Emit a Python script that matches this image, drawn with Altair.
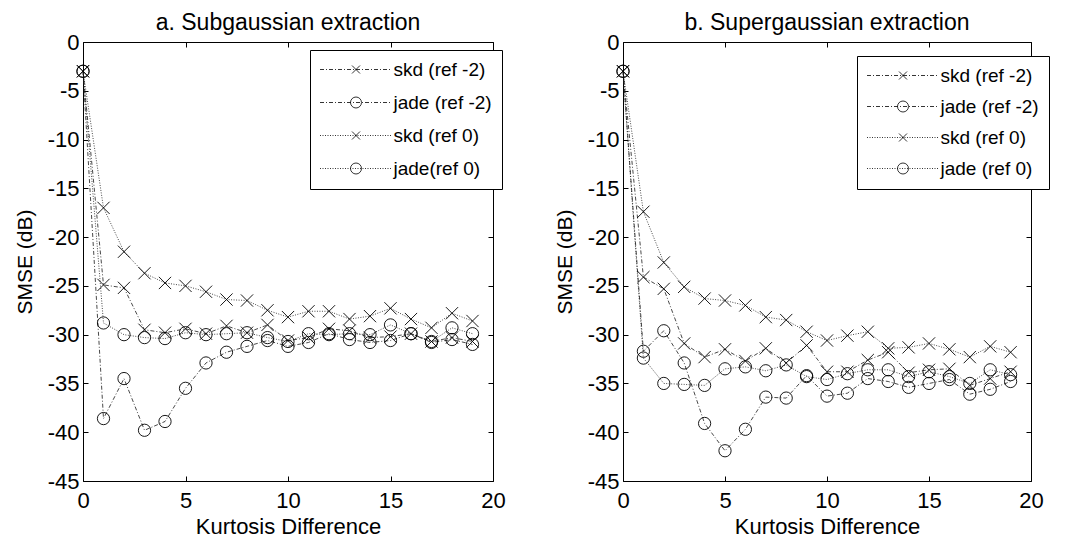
import altair as alt
import pandas as pd

# ---------------- data ----------------
K = list(range(20))

SERIES_A = ["skd (ref -2)", "jade (ref -2)", "skd (ref 0)", "jade(ref 0)"]
SERIES_B = ["skd (ref -2)", "jade (ref -2)", "skd (ref 0)", "jade (ref 0)"]

a_skd_m2 = [-3, -24.9, -25.2, -29.5, -29.8, -29.4, -29.9, -29.1, -29.8, -29.0,
            -30.6, -30.3, -29.4, -29.6, -30.3, -30.2, -29.9, -30.7, -30.3, -30.7]
a_jade_m2 = [-3, -38.6, -34.5, -39.8, -38.9, -35.5, -32.9, -31.8, -31.2, -30.6,
             -31.2, -30.8, -29.9, -30.5, -30.8, -30.6, -29.9, -30.8, -30.5, -31.0]
a_skd_0 = [-3, -17.0, -21.5, -23.7, -24.7, -25.0, -25.6, -26.4, -26.5, -27.5,
           -28.2, -27.6, -27.6, -28.4, -28.1, -27.3, -28.4, -29.3, -27.8, -28.6]
a_jade_0 = [-3, -28.8, -30.0, -30.3, -30.4, -29.8, -30.0, -29.9, -29.8, -30.3,
            -30.7, -29.9, -30.0, -29.9, -30.0, -29.0, -29.9, -30.7, -29.3, -29.9]

b_skd_m2 = [-3, -24.1, -25.3, -30.9, -32.3, -31.5, -32.7, -31.4, -32.9, -31.1,
            -33.8, -33.8, -32.6, -31.8, -33.9, -33.6, -33.5, -35.2, -34.5, -33.8]
b_jade_m2 = [-3, -31.7, -29.6, -32.9, -39.1, -41.9, -39.7, -36.4, -36.5, -34.2,
             -36.3, -36.0, -34.5, -34.8, -35.4, -35.0, -34.6, -36.1, -35.6, -34.8]
b_skd_0 = [-3, -17.4, -22.6, -25.1, -26.3, -26.5, -27.0, -28.2, -28.5, -29.7,
           -30.6, -30.1, -29.7, -31.4, -31.3, -30.9, -31.5, -32.3, -31.2, -31.8]
b_jade_0 = [-3, -32.4, -35.0, -35.1, -35.2, -33.5, -33.3, -33.7, -33.1, -34.3,
            -34.6, -34.0, -33.6, -33.6, -34.3, -33.8, -34.3, -35.0, -33.6, -34.1]

X_TICKS = [0, 5, 10, 15, 20]
Y_TICKS = [-45, -40, -35, -30, -25, -20, -15, -10, -5, 0]


def long_df(series, cols):
    rows = []
    for name, vals in zip(series, cols):
        for k, v in zip(K, vals):
            rows.append({"k": k, "v": v, "series": name})
    return pd.DataFrame(rows)


df_a = long_df(SERIES_A, [a_skd_m2, a_jade_m2, a_skd_0, a_jade_0])
df_b = long_df(SERIES_B, [b_skd_m2, b_jade_m2, b_skd_0, b_jade_0])

# ---------------- styles ----------------
FONT = "Liberation Sans"
DASHDOT = [4, 2, 1, 2]
DOTTED = [1, 1.5]
DASHES = [DASHDOT, DASHDOT, DOTTED, DOTTED]
XPATH = "M-1,-1L1,1M-1,1L1,-1"
MARKERS = [XPATH, "circle", XPATH, "circle"]
H = 439


def dash_path(pattern, x0=-36.0, x1=36.0):
    segs = []
    x = x0
    i = 0
    while x < x1:
        on = pattern[i % len(pattern)]
        off = pattern[(i + 1) % len(pattern)]
        end = min(x + on, x1)
        segs.append(f"M{x:.2f},0L{end:.2f},0")
        x = end + off
        i += 2
    return "".join(segs)


X_MARK = "M-4,-4L4,4M-4,4L4,-4"
O_MARK = "M5.5,0A5.5,5.5,0,1,1,-5.5,0A5.5,5.5,0,1,1,5.5,0Z"
LEGEND_PATHS = [
    dash_path(DASHDOT) + X_MARK,
    dash_path(DASHDOT) + O_MARK,
    dash_path(DOTTED) + X_MARK,
    dash_path(DOTTED) + O_MARK,
]


def panel(df, series, title, width, legend_x, legend_y, row_pad):
    x_enc = alt.X(
        "k:Q",
        scale=alt.Scale(domain=[0, 20], nice=False, zero=False),
        axis=alt.Axis(
            values=X_TICKS, title="Kurtosis Difference", grid=True,
            gridDash=[5, H - 10, 5, 10], gridColor="black", gridOpacity=1,
            gridWidth=1, ticks=False, domain=False, labelFlush=False,
            labelOverlap=False, labelExpr="'' + datum.value",
            labelFontSize=22, labelPadding=9, labelFont=FONT, labelColor="black",
            titleFontSize=22, titleFont=FONT, titleFontWeight="normal",
            titleColor="black", titlePadding=5,
        ),
    )
    y_enc = alt.Y(
        "v:Q",
        scale=alt.Scale(domain=[-45, 0], nice=False, zero=False),
        axis=alt.Axis(
            values=Y_TICKS, title="SMSE (dB)", grid=True,
            gridDash=[5, width - 10, 5, 10], gridColor="black", gridOpacity=1,
            gridWidth=1, ticks=False, domain=False, labelFlush=False,
            labelOverlap=False, labelExpr="'' + datum.value",
            labelFontSize=22, labelPadding=4, labelFont=FONT, labelColor="black",
            titleFontSize=21, titleFont=FONT, titleFontWeight="normal",
            titleColor="black", titlePadding=12,
        ),
    )
    base = alt.Chart(df)
    lines = base.mark_line(color="#1a1a1a", strokeWidth=0.8).encode(
        x=x_enc, y=y_enc,
        strokeDash=alt.StrokeDash("series:N",
                                  scale=alt.Scale(domain=series, range=DASHES),
                                  legend=None),
    )
    pts = base.mark_point(filled=False, color="black", size=150,
                          strokeWidth=0.9, opacity=1).encode(
        x=x_enc, y=y_enc,
        shape=alt.Shape("series:N",
                        scale=alt.Scale(domain=series, range=MARKERS),
                        legend=None),
    )
    leg = base.transform_filter("datum.k < 0").mark_point(
        filled=False, color="black", size=4, strokeWidth=0.8, opacity=1
    ).encode(
        x=x_enc, y=y_enc,
        shape=alt.Shape(
            "series:N",
            scale=alt.Scale(domain=series, range=LEGEND_PATHS),
            legend=alt.Legend(
                title=None, orient="none", legendX=legend_x, legendY=legend_y,
                padding=10, rowPadding=row_pad, symbolSize=4,
                symbolStrokeColor="black", symbolFillColor="transparent",
                symbolStrokeWidth=0.8, symbolOpacity=1, symbolOffset=26.5,
                labelOffset=28, labelFontSize=19, labelFont=FONT,
                labelColor="black", labelLimit=300,
                strokeColor="black", fillColor="white",
            ),
        ),
    )
    return alt.layer(lines, pts, leg).resolve_scale(shape="independent").properties(
        width=width, height=H,
        title=alt.Title(title, fontSize=23, fontWeight="normal", font=FONT,
                        color="black", anchor="middle", offset=-4),
    )


left = panel(df_a, SERIES_A, "a. Subgaussian extraction", 410, 227, 8, 13)
right = panel(df_b, SERIES_B, "b. Supergaussian extraction", 408, 234, 14, 11)

chart = alt.hconcat(left, right, spacing=130, bounds="flush").resolve_scale(
    shape="independent", strokeDash="independent"
).resolve_legend(shape="independent").properties(
    padding={"left": 5, "top": 3, "right": 2, "bottom": 2},
    background="white",
).configure_view(stroke="black", strokeWidth=1)

chart.save("out.html", embed_options={"renderer": "svg", "actions": False})
